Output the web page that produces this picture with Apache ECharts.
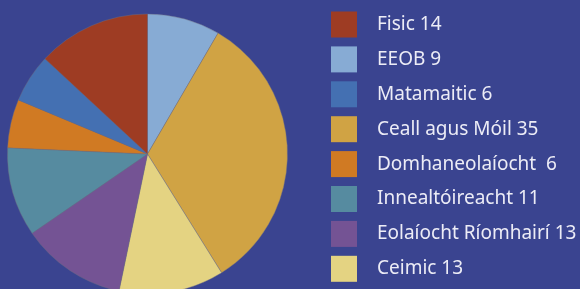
<!DOCTYPE html>
<html>
<head>
<meta charset="utf-8">
<script src="https://cdn.jsdelivr.net/npm/echarts@6/dist/echarts.min.js"></script>
<style>
  html, body { margin: 0; padding: 0; background: #3a4490; }
  #chart { width: 580px; height: 289px; }
</style>
</head>
<body>
<div id="chart"></div>
<script>
// slices in drawing order, clockwise from 12 o'clock
const sliceNames = ['EEOB', 'Ceall agus Móil', 'Ceimic', 'Eolaíocht Ríomhairí', 'Innealtóireacht', 'Domhaneolaíocht', 'Matamaitic', 'Fisic'];
const sliceValues = [9, 35, 13, 13, 11, 6, 6, 14];
const sliceColors = ['#87abd4', '#d0a344', '#e4d382', '#745394', '#568ba0', '#d07a23', '#4470b2', '#9e3c23'];

// legend reads top to bottom in this order
const legendOrder = ['Fisic', 'EEOB', 'Matamaitic', 'Ceall agus Móil', 'Domhaneolaíocht', 'Innealtóireacht', 'Eolaíocht Ríomhairí', 'Ceimic'];

const chart = echarts.init(document.getElementById('chart'));

const valueOf = {};
sliceNames.forEach((n, i) => { valueOf[n] = sliceValues[i]; });

chart.setOption({
  backgroundColor: '#3a4490',
  animation: false,
  legend: {
    type: 'plain',
    orient: 'vertical',
    left: 331,
    top: 11.5,
    padding: 0,
    icon: 'rect',
    itemWidth: 26,
    itemHeight: 26,
    itemGap: 8.9,
    data: legendOrder,
    itemStyle: { borderWidth: 0 },
    formatter: name => name + (name === 'Domhaneolaíocht' ? '  ' : ' ') + valueOf[name],
    textStyle: {
      color: '#ececf6',
      fontSize: 19,
      lineHeight: 26,
      fontFamily: 'Noto Sans',
      padding: [0, 0, 0, 15]
    }
  },
  series: [{
    type: 'pie',
    center: [147.5, 154],
    radius: [0, 140],
    startAngle: 90,
    clockwise: true,
    label: { show: false },
    labelLine: { show: false },
    emphasis: { disabled: true },
    itemStyle: { borderColor: 'rgba(110,110,130,0.7)', borderWidth: 0.6 },
    data: sliceNames.map((n, i) => ({
      name: n,
      value: sliceValues[i],
      itemStyle: { color: sliceColors[i] }
    }))
  }]
});
</script>
</body>
</html>
